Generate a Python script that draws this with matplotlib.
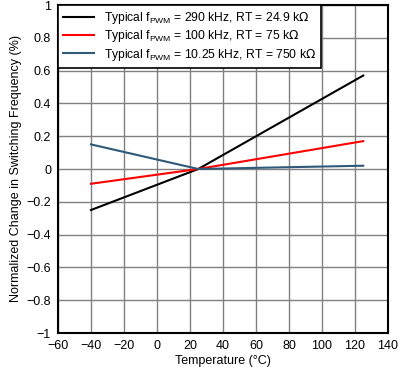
import matplotlib
matplotlib.use("Agg")
import matplotlib.pyplot as plt

plt.rcParams["font.family"] = ["Liberation Sans", "DejaVu Sans"]

temp = [-40, 25, 125]
change_290k = [-0.25, 0.0, 0.57]
change_100k = [-0.09, 0.0, 0.17]
change_10k = [0.15, 0.0, 0.02]

labels = [
    r"Typical f$_{\mathregular{PWM}}$ = 290 kHz, RT = 24.9 k$\Omega$",
    r"Typical f$_{\mathregular{PWM}}$ = 100 kHz, RT = 75 k$\Omega$",
    r"Typical f$_{\mathregular{PWM}}$ = 10.25 kHz, RT = 750 k$\Omega$",
]

fs = 9

fig = plt.figure(figsize=(4.06, 3.69), dpi=100)
ax = fig.add_axes([58 / 406, 36 / 369, 330 / 406, 328 / 369])

ax.plot(temp, change_290k, color="black", lw=1.5, label=labels[0])
ax.plot(temp, change_100k, color="#ff0000", lw=1.5, label=labels[1])
ax.plot(temp, change_10k, color="#2e5a78", lw=1.5, label=labels[2])

ax.set_xlim(-60, 140)
ax.set_ylim(-1, 1)
ax.set_xticks(range(-60, 141, 20))
ax.set_yticks([i / 10 for i in range(-10, 11, 2)])
ax.set_xticklabels([str(v).replace("-", "\u2212") for v in range(-60, 141, 20)])
ax.set_yticklabels(
    [("%g" % (i / 10)).replace("-", "\u2212") for i in range(-10, 11, 2)]
)
ax.grid(True, color="#808080", lw=1)
ax.tick_params(length=0, labelsize=fs, pad=5)
for s in ax.spines.values():
    s.set_linewidth(1.5)

ax.set_xlabel("Temperature (\u00b0C)", fontsize=fs, labelpad=2)
ax.set_ylabel("Normalized Change in Switching Frequency (%)", fontsize=fs,
              labelpad=3)

leg = ax.legend(loc="upper left", bbox_to_anchor=(0.0, 1.0), fontsize=8.7,
                fancybox=False, framealpha=1, edgecolor="black",
                handlelength=2.6, borderpad=0.4, labelspacing=0.2,
                borderaxespad=0.0)
leg.get_frame().set_linewidth(1.2)

fig.savefig("out.png", dpi=100)
